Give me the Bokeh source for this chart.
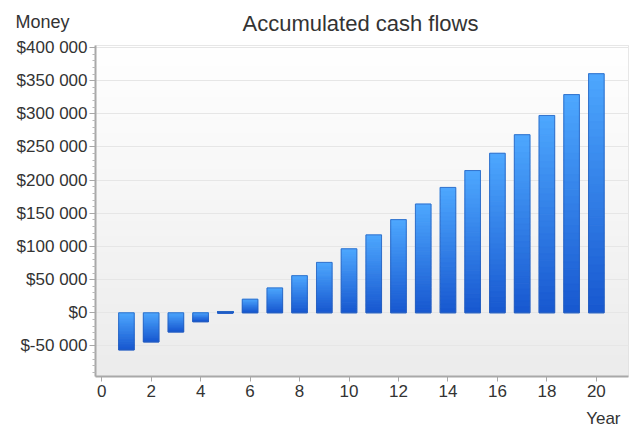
import numpy as np
from bokeh.plotting import figure
from bokeh.models import Range1d, FixedTicker, SingleIntervalTicker, Label
from bokeh.embed import file_html
from bokeh.resources import INLINE

# Accumulated cash flow per project year
years = list(range(1, 21))
cash_flows = [-56000, -44000, -29000, -13500, 2000, 20500, 37500, 56000, 76000, 96500,
              117500, 140500, 164000, 189000, 214500, 240500, 268500, 297500, 329000, 360500]

y_ticks = [-50000, 0, 50000, 100000, 150000, 200000, 250000, 300000, 350000, 400000]
y_tick_labels = ["$-50 000", "$0", "$50 000", "$100 000", "$150 000", "$200 000",
                 "$250 000", "$300 000", "$350 000", "$400 000"]

FONT = "Liberation Sans"
TEXT = "#333333"

W, H = 632, 427
LEFT, RIGHT, TOP, BOTTOM = 95, 628, 45, 376   # plotting region edges (px)

X0, X1 = -0.25, 21.3
Y0, Y1 = -96000, 403000

p = figure(width=W, height=H, output_backend="svg", toolbar_location=None,
           x_range=Range1d(X0, X1), y_range=Range1d(Y0, Y1),
           min_border_left=LEFT, min_border_right=W - RIGHT, min_border_top=TOP,
           min_border_bottom=H - BOTTOM)
p.background_fill_color = "white"
p.border_fill_color = "white"
p.outline_line_color = "#e0e0e0"
p.outline_line_width = 1

# soft vertical gradient behind the plotting region
n_bg = 64
t = np.linspace(0, 1, n_bg)[:, None]  # 0 bottom, 1 top
top_c = np.array([255, 255, 255])
bot_c = np.array([236, 236, 236])
rgb = (bot_c + (top_c - bot_c) * t).astype(np.uint32)
img = (255 << 24) | (rgb[:, 2] << 16) | (rgb[:, 1] << 8) | rgb[:, 0]
img = img.reshape(n_bg, 1)
p.image_rgba(image=[img], x=X0, y=Y0, dw=X1 - X0, dh=Y1 - Y0, level="image")

# bars with a light-to-dark vertical gradient, built from thin slices
bar_w = 0.63
n_sl = 30
light = np.array([78, 168, 255])
dark = np.array([24, 88, 208])
lefts, rights, tops, bottoms, colors = [], [], [], [], []
for yr, v in zip(years, cash_flows):
    hi, lo = max(v, 0), min(v, 0)
    edges = np.linspace(hi, lo, n_sl + 1)
    for i in range(n_sl):
        f = (i + 0.5) / n_sl
        c = (light + (dark - light) * f).astype(int)
        lefts.append(yr - bar_w / 2)
        rights.append(yr + bar_w / 2)
        tops.append(edges[i])
        bottoms.append(edges[i + 1])
        colors.append("#%02x%02x%02x" % tuple(c))
p.quad(left=lefts, right=rights, top=tops, bottom=bottoms,
       fill_color=colors, line_color=colors, line_width=1)
p.vbar(x=years, top=cash_flows, bottom=0, width=bar_w, fill_alpha=0,
       line_color="#2b5fb8", line_width=1, line_alpha=0.7)

# axes
minor = [v for v in range(-90000, 400001, 10000) if v % 50000 != 0]
p.yaxis.ticker = FixedTicker(ticks=y_ticks, minor_ticks=minor)
p.yaxis.major_label_overrides = {t_: s for t_, s in zip(y_ticks, y_tick_labels)}
p.xaxis.ticker = SingleIntervalTicker(interval=2, num_minor_ticks=0)

for ax in (p.xaxis[0], p.yaxis[0]):
    ax.axis_line_color = "#a8a8a8"
    ax.axis_line_width = 2
    ax.major_tick_line_color = "#a8a8a8"
    ax.minor_tick_line_color = "#b8b8b8"
    ax.major_tick_in = 0
    ax.minor_tick_in = 0
    ax.major_label_text_font = FONT
    ax.major_label_text_font_size = "17px"
    ax.major_label_text_color = TEXT
p.yaxis.major_tick_out = 6
p.yaxis.minor_tick_out = 3
p.yaxis.major_label_standoff = 2
p.xaxis.major_tick_out = 5
p.xaxis.major_label_standoff = 3

p.xgrid.grid_line_color = None
p.ygrid.grid_line_color = "#e6e6e6"
p.ygrid.grid_line_width = 1

# value-axis name and chart title in the top panel (positions relative to each slot)
p.add_layout(Label(x=15 - LEFT, y=24, x_units="screen", y_units="screen",
                   text="Money", text_align="left", text_baseline="alphabetic",
                   text_font=FONT, text_font_size="18px", text_color=TEXT), "above")
p.add_layout(Label(x=360 - LEFT, y=2, x_units="screen", y_units="screen",
                   text="Accumulated cash flows", text_align="center",
                   text_baseline="alphabetic",
                   text_font=FONT, text_font_size="22px", text_color=TEXT), "above")

# category-axis name under the year labels
p.add_layout(Label(x=620 - LEFT, y=0, x_units="screen", y_units="screen",
                   text="Year", text_align="right", text_baseline="alphabetic",
                   text_font=FONT, text_font_size="17px", text_color=TEXT), "below")

open("out.html", "w").write(file_html(p, INLINE))
